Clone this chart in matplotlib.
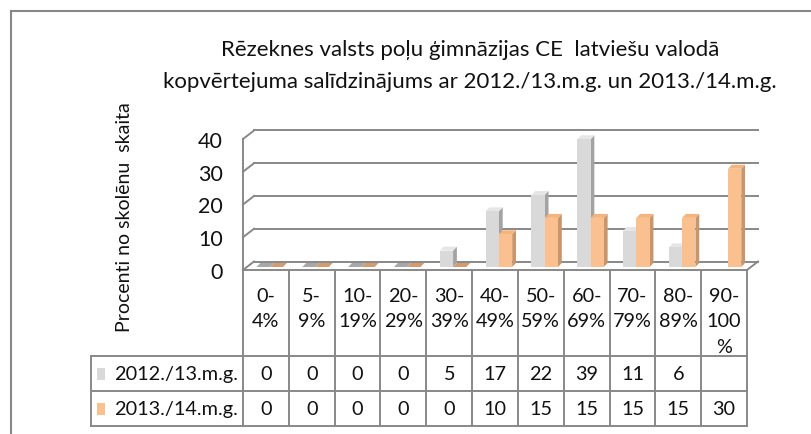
import numpy as np
import matplotlib
matplotlib.use("Agg")
import matplotlib.pyplot as plt
from matplotlib.patches import Polygon, Rectangle
from matplotlib.lines import Line2D

# ---------------- data ----------------
categories = ["0-\n4%", "5-\n9%", "10-\n19%", "20-\n29%", "30-\n39%", "40-\n49%",
              "50-\n59%", "60-\n69%", "70-\n79%", "80-\n89%", "90-\n100\n%"]
series_names = ["2012./13.m.g.", "2013./14.m.g."]
values_2012 = [0, 0, 0, 0, 5, 17, 22, 39, 11, 6, np.nan]
values_2013 = [0, 0, 0, 0, 0, 10, 15, 15, 15, 15, 30]
y_ticks = [0, 10, 20, 30, 40]
title_lines = ["Rēzeknes valsts poļu ģimnāzijas CE  latviešu valodā",
               "kopvērtejuma salīdzinājums ar 2012./13.m.g. un 2013./14.m.g."]
y_label = "Procenti no skolēnu  skaita"

# ---------------- style ----------------
plt.rcParams['font.family'] = ['Lato', 'DejaVu Sans']
W, H = 811, 435
LINE = '#888888'
TXT = '#111111'
front_cols = ['#D9D9D9', '#FAC090']
side_cols = ['#A3A3A3', '#C8966C']
top_cols = ['#E6E6E6', '#F3B47E']
zero_cols = ['#A8A8A8', '#D39C70']
FS_TAB = 14.3
FS_TICK = 15.5

fig = plt.figure(figsize=(W / 100, H / 100), dpi=100)

def fx(px):
    return px / W

def fy(py):
    return 1 - py / H

# main (front plane) axes
L, R, T, B = 243, 747, 140, 271
ax = fig.add_axes([fx(L), fy(B), (R - L) / W, (B - T) / H])
n = len(categories)
ax.set_xlim(-0.5, n - 0.5)
ax.set_ylim(0, 40)
ax.set_frame_on(False)
ax.set_xticks([])
ax.set_yticks(y_ticks)
ax.set_yticklabels([str(t) for t in y_ticks], fontsize=FS_TICK, color=TXT)
ax.tick_params(axis='y', length=0, pad=14.5)

ux = (n) / (R - L)      # data units per pixel (x)
uy = 40 / (B - T)       # data units per pixel (y)
DX, DY = 11 * ux, 8.5 * uy          # back-wall depth
BDX, BDY = 3.9 * ux, 3.0 * uy       # bar plane offset
SDX, SDY = 3.8 * ux, 4.0 * uy       # bar depth

lw = 1.4
xl, xr = -0.5, n - 0.5
# back wall gridlines with slant to front
for t in y_ticks:
    ax.add_line(Line2D([xl + DX, xr + DX], [t + DY, t + DY], color=LINE, lw=lw, clip_on=False, zorder=1))
    ax.add_line(Line2D([xl, xl + DX], [t, t + DY], color=LINE, lw=lw, clip_on=False, zorder=1))
# front left vertical edge
ax.add_line(Line2D([xl, xl], [0, 40], color=LINE, lw=lw, clip_on=False, zorder=1))
# floor
ax.add_line(Line2D([xl, xr], [0, 0], color=LINE, lw=lw, clip_on=False, zorder=1))
ax.add_line(Line2D([xr, xr + DX], [0, DY], color=LINE, lw=lw, clip_on=False, zorder=1))

# bars
bw = 0.29
for s, vals in enumerate([values_2012, values_2013]):
    for i, v in enumerate(vals):
        if v is None or np.isnan(v):
            continue
        x0 = i - bw + s * bw + BDX
        x1 = x0 + bw
        y0 = BDY
        y1 = BDY + v
        if v == 0:
            ax.add_patch(Polygon([(x0, y0), (x1, y0), (x1 + SDX, y0 + SDY), (x0 + SDX, y0 + SDY)],
                                 closed=True, fc=zero_cols[s], ec='none', clip_on=False, zorder=3))
            continue
        ax.add_patch(Polygon([(x1, y0), (x1 + SDX, y0 + SDY), (x1 + SDX, y1 + SDY), (x1, y1)],
                             closed=True, fc=side_cols[s], ec='none', clip_on=False, zorder=3))
        ax.add_patch(Polygon([(x0, y1), (x1, y1), (x1 + SDX, y1 + SDY), (x0 + SDX, y1 + SDY)],
                             closed=True, fc=top_cols[s], ec='none', clip_on=False, zorder=3))
        ax.add_patch(Rectangle((x0, y0), bw, v, fc=front_cols[s], ec='none', clip_on=False, zorder=3))

# ---------------- data table ----------------
TL, TT, TB = 91, 271, 427
row_lines = [0, 86, 121, 156]   # px from table top
tab = fig.add_axes([fx(TL), fy(TB), (R - TL) / W, (TB - TT) / H])
x_left = -0.5 - (L - TL) * ux
tab.set_xlim(x_left, xr)
tab.set_ylim(TB - TT, 0)
tab.axis('off')
for yl in row_lines[1:]:
    tab.add_line(Line2D([x_left, xr], [yl, yl], color=LINE, lw=lw, clip_on=False))
for k in range(n + 1):
    tab.add_line(Line2D([xl + k, xl + k], [0, row_lines[-1]], color=LINE, lw=lw, clip_on=False))
tab.add_line(Line2D([x_left, x_left], [row_lines[1], row_lines[-1]], color=LINE, lw=lw, clip_on=False))

# category labels
for i, c in enumerate(categories):
    for j, part in enumerate(c.split("\n")):
        tab.text(i, 25 + 26 * j, part, ha='center', va='center', fontsize=FS_TAB, color=TXT)

# series rows
for r, (name, vals) in enumerate(zip(series_names, [values_2012, values_2013])):
    yc = (row_lines[r + 1] + row_lines[r + 2]) / 2
    for i, v in enumerate(vals):
        if v is None or np.isnan(v):
            continue
        tab.text(i, yc, f"{v:g}", ha='center', va='center', fontsize=FS_TAB, color=TXT)
    ypx = TT + yc
    fig.patches.append(Rectangle((fx(97), fy(ypx + 6)), 8 / W, 12 / H, transform=fig.transFigure,
                                 fc=front_cols[r], ec='none'))
    fig.text(fx(114), fy(ypx), name, ha='left', va='center', fontsize=FS_TAB, color=TXT)

# ---------------- titles ----------------
fig.text(fx(470), fy(50), title_lines[0], ha='center', va='center', fontsize=16, color=TXT)
fig.text(fx(470), fy(82), title_lines[1], ha='center', va='center', fontsize=16, color=TXT)
fig.text(fx(125), fy(217), y_label, ha='center', va='center', rotation=90, fontsize=14, color=TXT)

# outer chart border
fig.add_artist(Line2D([fx(11), 1], [fy(12), fy(12)], color=LINE, lw=1.5, transform=fig.transFigure))
fig.add_artist(Line2D([fx(11), fx(11)], [fy(12), 0], color=LINE, lw=1.5, transform=fig.transFigure))

fig.savefig("out.png", dpi=100, facecolor='white')
